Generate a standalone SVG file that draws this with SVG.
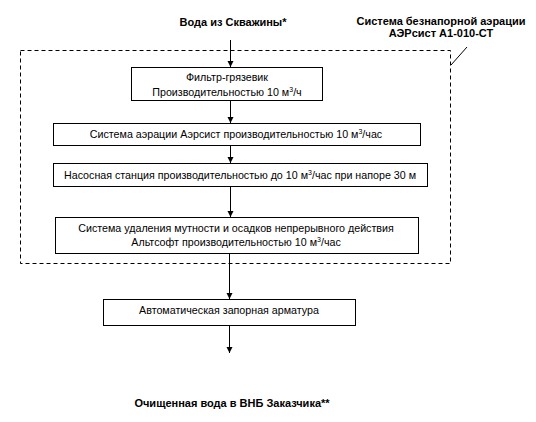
<svg xmlns="http://www.w3.org/2000/svg" width="536" height="422" viewBox="0 0 536 422">
<style>
text{font-family:"Liberation Sans",Arial,sans-serif;font-size:10.7px;fill:#000;text-anchor:middle}
.b{font-weight:bold;font-size:11px}
.box{fill:#fff;stroke:#000;stroke-width:1}
.ln{stroke:#000;stroke-width:1;fill:none}
.sup{font-size:7px}
</style>
<defs>
<marker id="ah" viewBox="0 0 10 10" refX="10" refY="5" markerWidth="6" markerHeight="7" markerUnits="userSpaceOnUse" orient="auto">
<path d="M0,0 L10,5 L0,10 z" fill="#000"/>
</marker>
</defs>
<rect width="536" height="422" fill="#fff"/>
<g id="frame">
<rect x="20.5" y="50.5" width="430" height="213" fill="none" stroke="#000" stroke-dasharray="4,3"/>
<line class="ln" x1="451" y1="65" x2="467" y2="47"/>
</g>
<g id="labels">
<text class="b" x="233" y="26">Вода из Скважины*</text>
<text class="b" x="441" y="25">Система безнапорной аэрации</text>
<text class="b" x="441" y="37">АЭРсист А1-010-СТ</text>
<text class="b" x="232" y="407">Очищенная вода в ВНБ Заказчика**</text>
</g>
<g id="connectors">
<line class="ln" x1="230.5" y1="40" x2="230.5" y2="67" marker-end="url(#ah)"/>
<line class="ln" x1="230.5" y1="100" x2="230.5" y2="123" marker-end="url(#ah)"/>
<line class="ln" x1="230.5" y1="145" x2="230.5" y2="163" marker-end="url(#ah)"/>
<line class="ln" x1="230.5" y1="186" x2="230.5" y2="217" marker-end="url(#ah)"/>
<line class="ln" x1="229.5" y1="253" x2="229.5" y2="299" marker-end="url(#ah)"/>
<line class="ln" x1="229.5" y1="325" x2="229.5" y2="353" marker-end="url(#ah)"/>
</g>
<g id="n1">
<rect class="box" x="131.5" y="67.5" width="191" height="33"/>
<text x="227" y="81">Фильтр-грязевик</text>
<text x="227" y="96">Производительностью 10 м<tspan class="sup" dy="-4">3</tspan><tspan dy="4">/ч</tspan></text>
</g>
<g id="n2">
<rect class="box" x="53.5" y="123.5" width="367" height="22"/>
<text x="236" y="138">Система аэрации Аэрсист производительностью 10 м<tspan class="sup" dy="-4">3</tspan><tspan dy="4">/час</tspan></text>
</g>
<g id="n3">
<rect class="box" x="53.5" y="163.5" width="374" height="23"/>
<text x="240" y="179">Насосная станция производительностью до 10 м<tspan class="sup" dy="-4">3</tspan><tspan dy="4">/час при напоре 30 м</tspan></text>
</g>
<g id="n4">
<rect class="box" x="55.5" y="217.5" width="363" height="36"/>
<text x="236" y="232">Система удаления мутности и осадков непрерывного действия</text>
<text x="236" y="246">Альтсофт производительностью 10 м<tspan class="sup" dy="-4">3</tspan><tspan dy="4">/час</tspan></text>
</g>
<g id="n5">
<rect class="box" x="103.5" y="299.5" width="252" height="26"/>
<text x="229" y="314">Автоматическая запорная арматура</text>
</g>
</svg>
